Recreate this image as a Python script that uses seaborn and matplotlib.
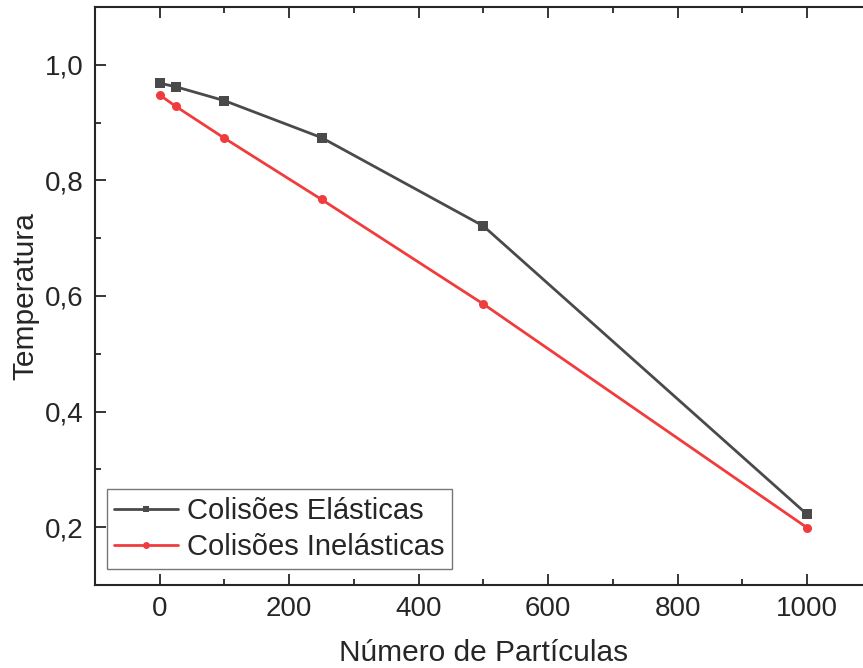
import matplotlib
matplotlib.use("Agg")
import matplotlib.pyplot as plt
from matplotlib.ticker import MultipleLocator, FuncFormatter
import seaborn as sns
import pandas as pd

# Number of particles and normalised temperature for each collision model
particulas = [1, 25, 100, 250, 500, 1000]
temp_elasticas = [0.968, 0.962, 0.938, 0.874, 0.721, 0.222]
temp_inelasticas = [0.947, 0.928, 0.873, 0.767, 0.586, 0.199]
series = ["Colisões Elásticas", "Colisões Inelásticas"]
x_ticks = [0, 200, 400, 600, 800, 1000]
y_ticks = [0.2, 0.4, 0.6, 0.8, 1.0]

df = pd.DataFrame({
    "Número de Partículas": particulas * 2,
    "Temperatura": temp_elasticas + temp_inelasticas,
    "Série": [series[0]] * len(particulas) + [series[1]] * len(particulas),
})

sns.set_style("ticks")
plt.rcParams["font.family"] = ["Liberation Sans", "DejaVu Sans"]

cores = {series[0]: "#4a4a4a", series[1]: "#f03c3c"}
marcadores = {series[0]: "s", series[1]: "o"}

fig = plt.figure(figsize=(8.63, 6.68), dpi=100)
ax = fig.add_axes([0.110, 0.1243, 0.9003, 0.8652])

sns.lineplot(data=df, x="Número de Partículas", y="Temperatura", hue="Série",
             style="Série", palette=cores, markers=marcadores, dashes=False,
             linewidth=2.0, markersize=6.5, markeredgewidth=0, ax=ax, legend=False)

ax.set_xlim(-100, 1100)
ax.set_ylim(0.1, 1.1)
ax.set_xticks(x_ticks)
ax.set_yticks(y_ticks)
ax.xaxis.set_minor_locator(MultipleLocator(100))
ax.yaxis.set_minor_locator(MultipleLocator(0.1))
ax.yaxis.set_major_formatter(FuncFormatter(lambda v, p: f"{v:.1f}".replace(".", ",")))

ax.tick_params(which="both", direction="in", top=True, right=False, width=1.3)
ax.tick_params(which="major", length=8, labelsize=20, pad=8)
ax.tick_params(which="minor", length=4.5)
for s in ax.spines.values():
    s.set_linewidth(1.5)
    s.set_visible(True)

ax.set_xlabel("Número de Partículas", fontsize=21.5, labelpad=12)
ax.set_ylabel("Temperatura", fontsize=21.5, labelpad=4)

handles = [
    plt.Line2D([], [], color=cores[series[0]], marker="s", markersize=4.5,
               markeredgewidth=0, linewidth=2.0),
    plt.Line2D([], [], color=cores[series[1]], marker="o", markersize=5,
               markeredgewidth=0, linewidth=2.0),
]
leg = ax.legend(handles, series, loc="lower left", bbox_to_anchor=(0.015, 0.028),
                fontsize=21, frameon=True, fancybox=False, handlelength=2.2,
                handletextpad=0.3, borderpad=0.25, labelspacing=0.3,
                borderaxespad=0)
leg.get_frame().set_edgecolor("#555555")
leg.get_frame().set_linewidth(1.0)

fig.savefig("out.png", dpi=100)
